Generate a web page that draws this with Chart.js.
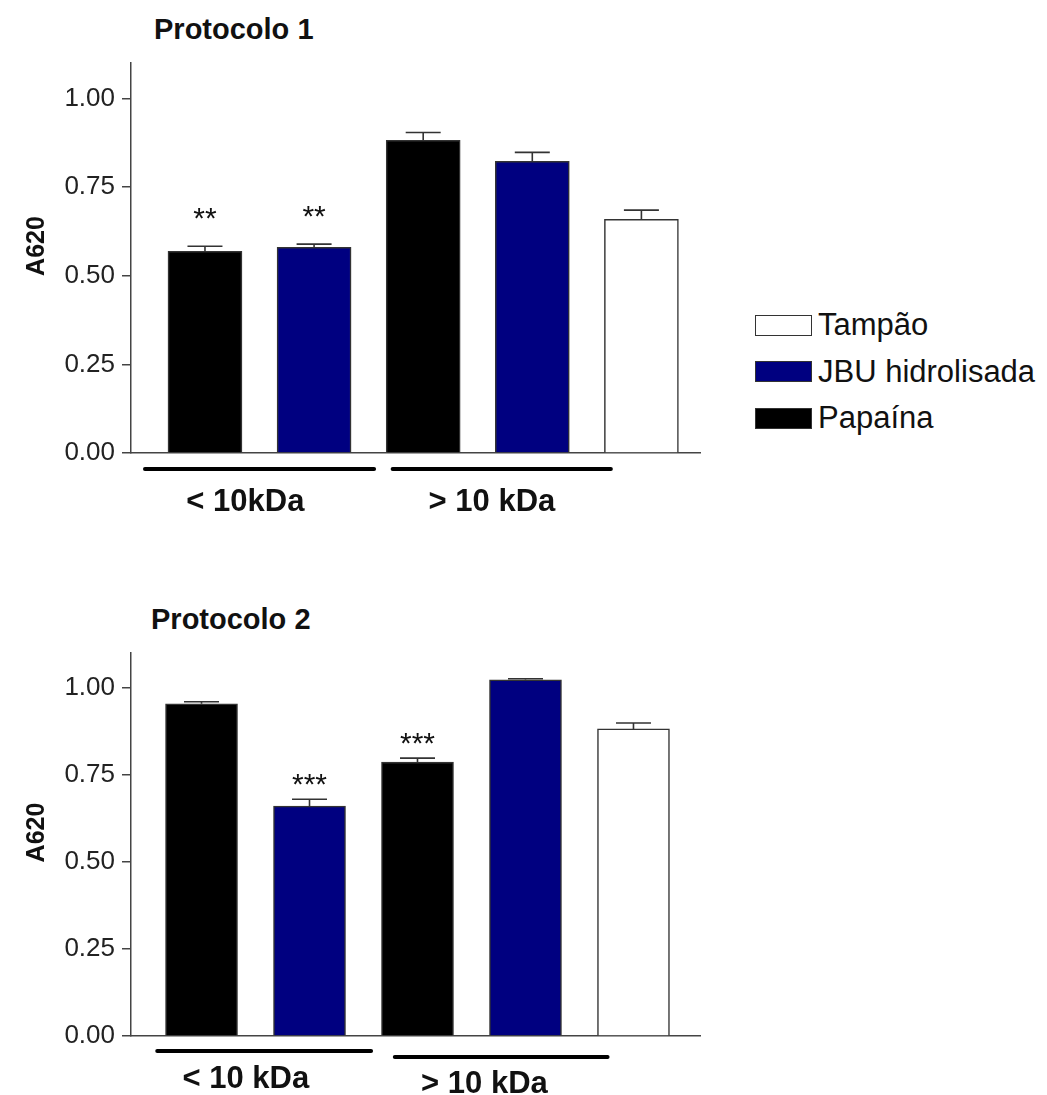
<!DOCTYPE html>
<html>
<head>
<meta charset="utf-8">
<script src="https://cdn.jsdelivr.net/npm/chart.js@4.4.1/dist/chart.umd.min.js"></script>
<style>
  body { margin: 0; background: #fff; width: 1047px; height: 1095px; position: relative; overflow: hidden;
         font-family: "Liberation Sans", Arial, sans-serif; }
  .titulo { position: absolute; font-weight: bold; font-size: 29px; line-height: 1; color: #111; }
  .painel { position: absolute; left: 0; }
  #legenda { position: absolute; left: 755px; top: 302px; }
  .item { display: flex; align-items: center; height: 46.5px; font-size: 31px; color: #111; }
  .caixa { width: 55px; height: 19px; border: 1.5px solid #333; margin-right: 6px; }
</style>
</head>
<body>
<div class="titulo" style="left:154px; top:15px">Protocolo 1</div>
<div class="titulo" style="left:151px; top:605px">Protocolo 2</div>
<div class="painel" style="top:0"><canvas id="g1" width="720" height="540"></canvas></div>
<div class="painel" style="top:590px"><canvas id="g2" width="720" height="505"></canvas></div>
<div id="legenda"></div>

<script>
// Séries (ordem da legenda)
const series = ['Tampão', 'JBU hidrolisada', 'Papaína'];
const seriesColors = ['#ffffff', '#000080', '#000000'];

// Ordem das barras: Papaína <10, JBU <10, Papaína >10, JBU >10, Tampão
const barSeries = [2, 1, 2, 1, 0];

// Protocolo 1
const p1Values = [0.569, 0.580, 0.882, 0.823, 0.659];
const p1Sem = [0.014, 0.009, 0.022, 0.025, 0.026];
const p1Stars = ['**', '**', '', '', ''];
const p1Groups = ['< 10kDa', '> 10 kDa'];

// Protocolo 2
const p2Values = [0.954, 0.660, 0.787, 1.023, 0.882];
const p2Sem = [0.006, 0.020, 0.011, 0.003, 0.017];
const p2Stars = ['', '***', '***', '', ''];
const p2Groups = ['< 10 kDa', '> 10 kDa'];

const yTicks = [0, 0.25, 0.5, 0.75, 1.0];
const yMax = 1.1;
const yTitle = 'A620';

const FONT = '"Liberation Sans", Arial, sans-serif';

// Legenda em HTML
const legenda = document.getElementById('legenda');
series.forEach((nome, i) => {
    const item = document.createElement('div');
    item.className = 'item';
    const caixa = document.createElement('div');
    caixa.className = 'caixa';
    caixa.style.background = seriesColors[i];
    const texto = document.createElement('span');
    texto.textContent = nome;
    item.appendChild(caixa);
    item.appendChild(texto);
    legenda.appendChild(item);
});

// Barras de erro, asteriscos, linhas de grupo e título do eixo y
const decoracoes = {
    id: 'decoracoes',
    afterDatasetsDraw(chart, args, opts) {
        const { ctx, chartArea, scales: { x, y } } = chart;
        ctx.save();
        opts.values.forEach((v, i) => {
            const px = x.getPixelForValue(i);
            const top = y.getPixelForValue(v);
            const errTop = y.getPixelForValue(v + opts.sem[i]);
            ctx.strokeStyle = '#333';
            ctx.lineWidth = 1.6;
            ctx.beginPath();
            ctx.moveTo(px, top);
            ctx.lineTo(px, errTop);
            ctx.moveTo(px - opts.capWidth / 2, errTop);
            ctx.lineTo(px + opts.capWidth / 2, errTop);
            ctx.stroke();
            if (opts.stars[i]) {
                ctx.fillStyle = '#111';
                ctx.font = '30px ' + FONT;
                ctx.textAlign = 'center';
                ctx.textBaseline = 'alphabetic';
                ctx.fillText(opts.stars[i], px, errTop - opts.starGap + 17);
            }
        });
        opts.groups.forEach((g, i) => {
            const geo = opts.groupGeo[i];
            ctx.strokeStyle = '#000';
            ctx.lineWidth = 4;
            ctx.lineCap = 'round';
            ctx.beginPath();
            ctx.moveTo(x.getPixelForValue(geo.from), y.bottom + geo.lineDy);
            ctx.lineTo(x.getPixelForValue(geo.to), y.bottom + geo.lineDy);
            ctx.stroke();
            ctx.fillStyle = '#111';
            ctx.font = 'bold 31px ' + FONT;
            ctx.textAlign = 'center';
            ctx.textBaseline = 'middle';
            ctx.fillText(g, x.getPixelForValue(geo.textX), y.bottom + geo.textDy);
        });
        // título do eixo y, um pouco acima do centro
        ctx.translate(37, (chartArea.top + chartArea.bottom) / 2 - 12);
        ctx.rotate(-Math.PI / 2);
        ctx.fillStyle = '#111';
        ctx.font = 'bold 25px ' + FONT;
        ctx.textAlign = 'center';
        ctx.textBaseline = 'middle';
        ctx.fillText(yTitle, 0, 0);
        ctx.restore();
    }
};

function buildDatasets(values) {
    return series.map((nome, s) => ({
        label: nome,
        data: values.map((v, i) => ({ x: i, y: v })).filter((p, i) => barSeries[i] === s),
        backgroundColor: seriesColors[s],
        borderColor: '#333',
        borderWidth: 1.5
    }));
}

function makeChart(id, values, sem, stars, groups, layout) {
    const ctx = document.getElementById(id).getContext('2d');
    return new Chart(ctx, {
        type: 'bar',
        data: { datasets: buildDatasets(values) },
        options: {
            responsive: false,
            animation: false,
            grouped: false,
            barThickness: layout.barWidth,
            layout: { padding: { left: 0, top: layout.top, right: layout.right, bottom: layout.bottom } },
            plugins: {
                legend: { display: false },
                tooltip: { enabled: false },
                decoracoes: {
                    values, sem, stars, groups,
                    groupGeo: layout.groupGeo,
                    capWidth: 35,
                    starGap: layout.starGap
                }
            },
            scales: {
                x: {
                    type: 'linear',
                    min: layout.xMin,
                    max: layout.xMax,
                    offset: false,
                    ticks: { display: false },
                    grid: { display: false, drawTicks: false },
                    border: { display: true, color: '#444', width: 1.5 },
                    afterFit(s) { s.height = 0; }
                },
                y: {
                    min: 0,
                    max: yMax,
                    afterBuildTicks(s) { s.ticks = yTicks.map(v => ({ value: v })); },
                    ticks: {
                        padding: 7,
                        color: '#222',
                        font: { family: FONT, size: 26 },
                        callback: v => v.toFixed(2)
                    },
                    grid: { drawOnChartArea: false, tickLength: 9, color: '#444', lineWidth: 1.5 },
                    border: { display: true, color: '#444', width: 1.5 },
                    afterFit(s) { s.width = 131; }
                }
            }
        },
        plugins: [decoracoes]
    });
}

makeChart('g1', p1Values, p1Sem, p1Stars, p1Groups, {
    top: 63, bottom: 87, right: 20, barWidth: 74,
    xMin: -0.678, xMax: 4.537, starGap: 35,
    groupGeo: [
        { from: -0.55, to: 1.55, textX: 0.37, lineDy: 16, textDy: 49 },
        { from: 1.72, to: 3.72, textX: 2.63, lineDy: 16, textDy: 49 }
    ]
});

makeChart('g2', p2Values, p2Sem, p2Stars, p2Groups, {
    top: 63, bottom: 59, right: 20, barWidth: 72,
    xMin: -0.653, xMax: 4.616, starGap: 22,
    groupGeo: [
        { from: -0.41, to: 1.57, textX: 0.41, lineDy: 15, textDy: 43 },
        { from: 1.79, to: 3.76, textX: 2.62, lineDy: 21, textDy: 48 }
    ]
});
</script>
</body>
</html>
